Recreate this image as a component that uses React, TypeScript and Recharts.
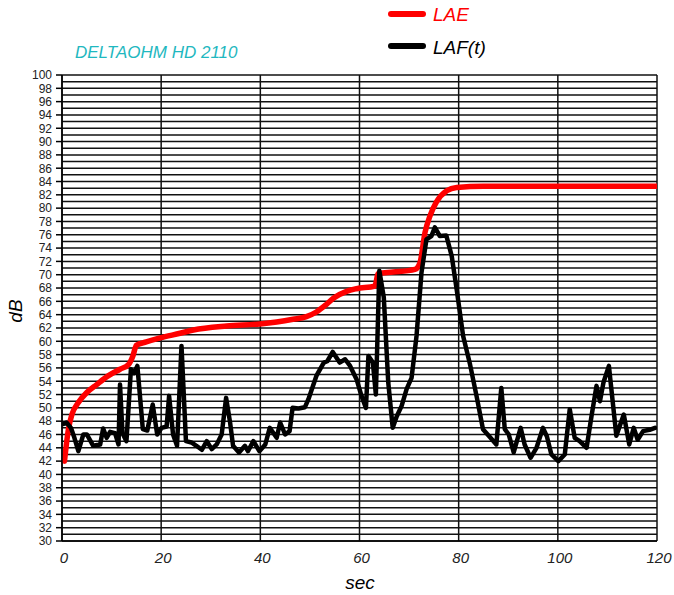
import { LineChart, Line, XAxis, YAxis, CartesianGrid } from 'recharts';

// LAF(t) - fast weighted level
const lafTime = [
  0.3, 0.9, 1.8, 2.5, 3.3, 4.3, 5.0, 6.3, 7.7, 8.3, 9.0, 9.7, 10.7, 11.4, 11.7, 12.2, 13.0, 13.9, 14.5, 15.2,
  16.3, 17.2, 18.3, 19.2, 20.1, 21.1, 21.6, 22.4, 23.2, 24.1, 25.0, 26.1, 27.1, 28.2, 29.2, 30.2, 31.2, 32.2,
  33.1, 33.9, 34.5, 35.7, 36.9, 37.5, 38.6, 39.8, 41.0, 41.9, 43.3, 44.0, 45.0, 45.9, 46.5, 47.7, 49.0, 49.7,
  51.3, 52.8, 53.5, 54.6, 56.0, 57.1, 58.1, 59.4, 60.4, 61.3, 61.8, 62.7, 63.3, 64.0, 64.9, 65.8, 66.7, 67.5,
  68.5, 69.5, 70.5, 71.5, 72.5, 73.5, 74.5, 75.2, 76.2, 77.5, 78.6, 79.6, 80.9, 82.3, 83.6, 84.9, 86.2, 87.6,
  88.6, 89.3, 90.1, 91.1, 92.5, 93.3, 94.5, 95.7, 97.0, 97.8, 98.7, 100.1, 101.4, 102.4, 103.4, 104.4, 105.8,
  106.8, 107.8, 108.5, 109.2, 110.3, 111.8, 113.3, 114.4, 115.3, 116.1, 117.2, 118.5, 119.6,
];
const lafLevel = [
  47.6, 47.8, 47.0, 45.5, 43.5, 46.0, 46.0, 44.3, 44.5, 46.9, 45.5, 46.4, 46.2, 44.5, 53.5, 46.2, 45.0, 55.8, 55.2, 56.3,
  46.8, 46.6, 50.5, 46.0, 47.0, 47.2, 51.8, 46.0, 44.3, 59.3, 45.0, 44.8, 44.3, 43.7, 45.0, 43.8, 44.5, 46.0,
  51.5, 47.8, 44.3, 43.3, 44.3, 43.5, 45.0, 43.5, 44.5, 47.0, 45.5, 47.8, 46.0, 46.5, 50.0, 49.9, 50.1, 51.3,
  54.8, 56.8, 57.0, 58.4, 56.8, 57.3, 56.3, 54.3, 51.8, 50.0, 57.8, 56.8, 52.0, 70.6, 66.6, 53.8, 47.0, 48.7,
  50.3, 52.8, 54.5, 60.8, 70.3, 75.3, 75.8, 77.1, 75.8, 75.9, 72.8, 67.8, 60.8, 56.5, 51.8, 46.8, 45.7, 44.5,
  53.0, 46.8, 46.0, 43.3, 47.0, 44.5, 42.5, 44.0, 47.0, 45.7, 43.0, 42.0, 43.0, 49.8, 45.5, 45.0, 44.0,
  48.8, 53.3, 51.0, 53.8, 56.3, 45.8, 49.0, 44.5, 47.0, 45.2, 46.5, 46.7, 47.0,
];

// LAE - cumulative exposure level
const laeTime = [
  0.5, 1.3, 2.0, 3.3, 5.0, 7.0, 9.3, 11.7, 13.4, 14.3, 15.0, 17.0, 19.8, 23.8, 26.5, 33.2, 39.9, 43.3, 46.6,
  49.3, 51.3, 53.4, 54.8, 57.4, 59.4, 63.1, 63.8, 66.8, 71.2, 72.2, 73.2, 74.2, 75.5, 77.6, 79.6, 85, 100, 120,
];
const laeLevel = [
  42.0, 46.8, 49.0, 50.8, 52.3, 53.5, 54.8, 55.8, 56.5, 57.8, 59.4, 59.9, 60.5, 61.2, 61.7, 62.3, 62.6, 62.9, 63.3,
  63.7, 64.4, 65.6, 66.5, 67.5, 67.9, 68.3, 70.2, 70.4, 70.8, 71.8, 76.3, 78.8, 80.9, 82.6, 83.1, 83.3, 83.3, 83.3,
];

const xTicks = [0, 20, 40, 60, 80, 100, 120];
const yTicks = Array.from({ length: 71 }, (_, i) => 30 + i);

const lafData = lafTime.map((t, i) => ({ t, v: lafLevel[i] }));
const laeData = laeTime.map((t, i) => ({ t, v: laeLevel[i] }));

const font = '"Liberation Sans", Arial, sans-serif';

function YTick(props: any) {
  const { x, y, payload } = props;
  if (payload.value % 2 !== 0) return <g />;
  return (
    <g>
      <line x1={x - 6} x2={x} y1={y} y2={y} stroke="#000" strokeWidth={1.5} />
      <text x={x - 10} y={y} dy={4.3} textAnchor="end" fontSize={12} fill="#222" fontFamily={font}>
        {payload.value}
      </text>
    </g>
  );
}

function XTick(props: any) {
  const { x, y, payload } = props;
  return (
    <text x={x + 2} y={y + 22} textAnchor="middle" fontSize={15} fontStyle="italic" fill="#222" fontFamily={font}>
      {payload.value}
    </text>
  );
}

export default function App() {
  return (
    <div style={{ position: 'absolute', left: 0, top: 0, width: 674, height: 595, background: '#fff' }}>
      <LineChart width={674} height={595} margin={{ top: 75, right: 17, bottom: 0, left: 0 }}>
        <CartesianGrid stroke="#111" strokeWidth={1.5} />
        <XAxis
          type="number"
          dataKey="t"
          domain={[0, 120]}
          ticks={xTicks}
          height={54}
          tickSize={0}
          tickMargin={0}
          tick={<XTick />}
          axisLine={{ stroke: '#000', strokeWidth: 1.5 }}
          allowDataOverflow
        />
        <YAxis
          type="number"
          domain={[30, 100]}
          ticks={yTicks}
          interval={0}
          width={62}
          tickSize={0}
          tickMargin={0}
          tick={<YTick />}
          axisLine={{ stroke: '#000', strokeWidth: 1.5 }}
          allowDataOverflow
        />
        <Line
          data={laeData}
          dataKey="v"
          type="monotone"
          stroke="#ff0000"
          strokeWidth={5.5}
          strokeLinecap="round"
          dot={false}
          isAnimationActive={false}
        />
        <Line
          data={lafData}
          dataKey="v"
          type="linear"
          stroke="#000"
          strokeWidth={4.5}
          strokeLinejoin="round"
          strokeLinecap="round"
          dot={false}
          isAnimationActive={false}
        />
      </LineChart>
      <svg width={674} height={595} style={{ position: 'absolute', left: 0, top: 0, pointerEvents: 'none' }}>
        <text x={75} y={58} fontSize={17} fontStyle="italic" fill="#1fb8c0" fontFamily={font}>
          DELTAOHM HD 2110
        </text>
        <line x1={391} x2={423} y1={14} y2={14} stroke="#ff0000" strokeWidth={6} strokeLinecap="round" />
        <text x={433} y={21} fontSize={19} fontStyle="italic" fill="#ff0000" fontFamily={font}>
          LAE
        </text>
        <line x1={391} x2={423} y1={46} y2={46} stroke="#000" strokeWidth={6} strokeLinecap="round" />
        <text x={433} y={54} fontSize={19} fontStyle="italic" fill="#000" fontFamily={font}>
          LAF(t)
        </text>
        <text x={360} y={589} textAnchor="middle" fontSize={19} fontStyle="italic" fill="#000" fontFamily={font}>
          sec
        </text>
        <text
          x={22}
          y={311}
          textAnchor="middle"
          fontSize={19}
          fontStyle="italic"
          fill="#000"
          fontFamily={font}
          transform="rotate(-90 22 311)"
        >
          dB
        </text>
      </svg>
    </div>
  );
}
